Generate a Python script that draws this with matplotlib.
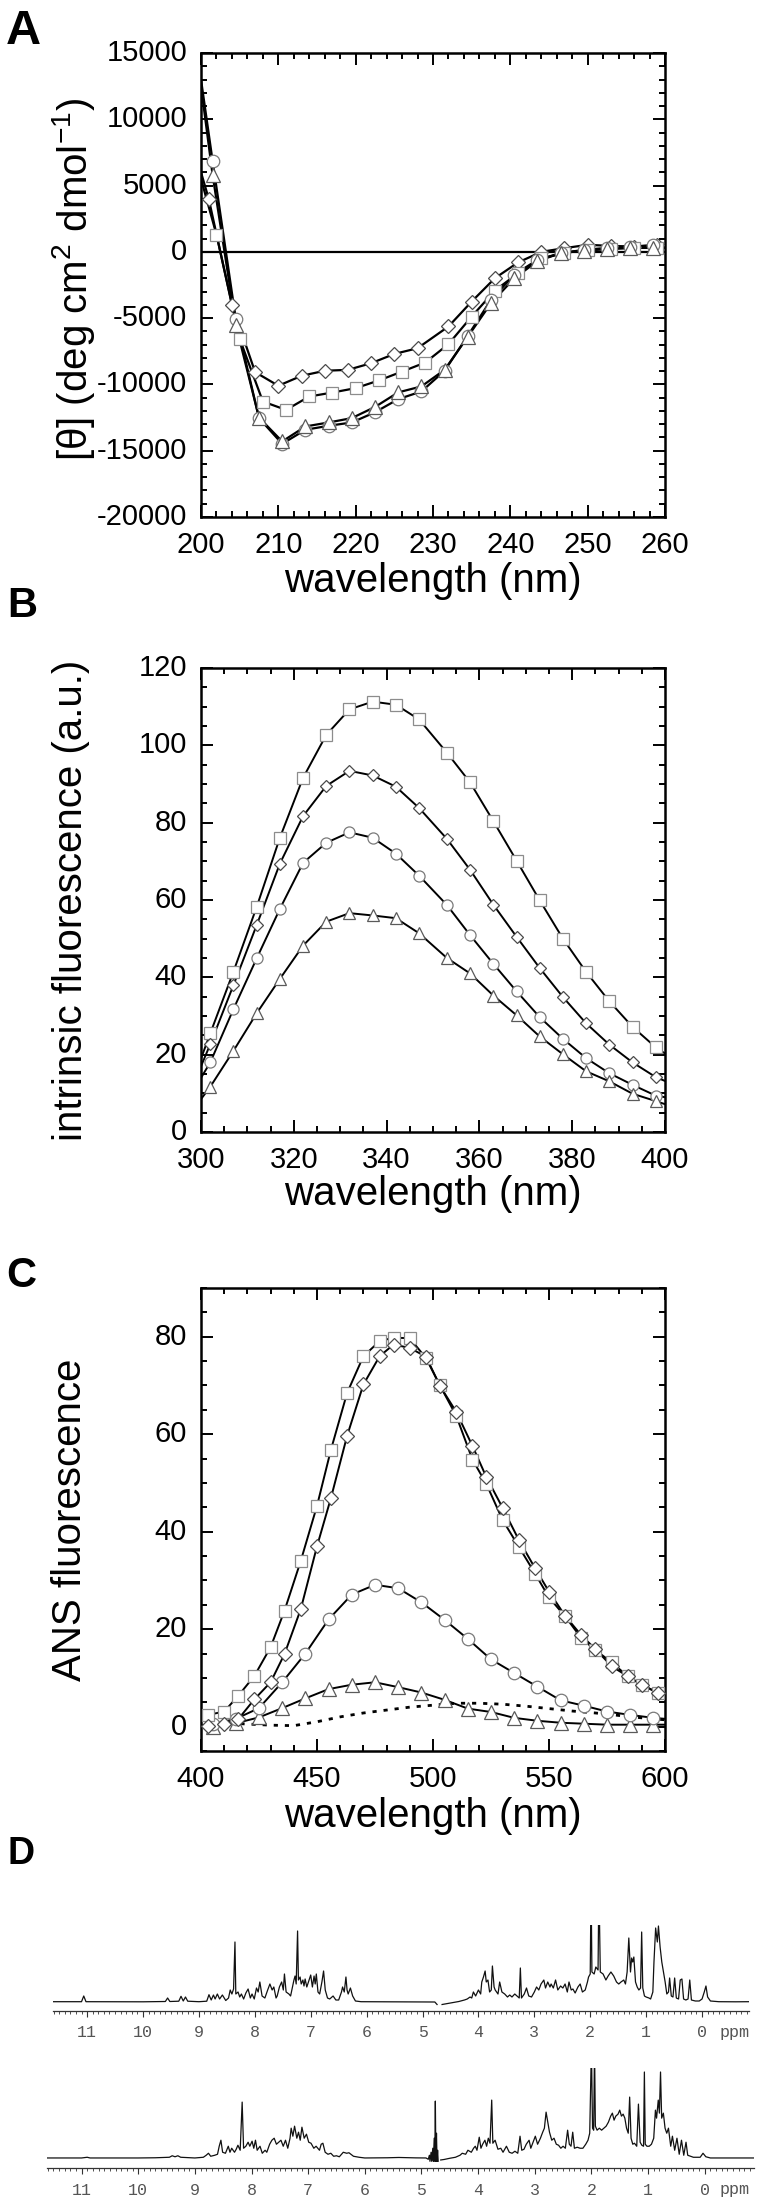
import matplotlib
matplotlib.use("Agg")
import matplotlib.pyplot as plt
from matplotlib.ticker import MultipleLocator
import numpy as np

plt.rcParams['font.family'] = ['Liberation Sans', 'DejaVu Sans']
plt.rcParams['mathtext.fontset'] = 'custom'
plt.rcParams['mathtext.rm'] = 'Liberation Sans'
plt.rcParams['mathtext.it'] = 'Liberation Sans:italic'
plt.rcParams['axes.unicode_minus'] = False

# ---- panel A: CD spectra ----
a_dia_x = [200, 201, 204, 207, 210, 213, 216, 219, 222, 225, 228, 232, 235, 238, 241, 244, 247, 250, 253, 256, 259, 260]
a_dia_y = [6000, 4000, -4000, -9070, -10100, -9350, -8970, -8900, -8400, -7700, -7270, -5630, -3750, -1990, -800, 0, 280, 530, 450, 400, 500, 450]
a_sq_x = [200, 202, 205, 208, 211, 214, 217, 220, 223, 226, 229, 232, 235, 238, 241, 244, 247, 250, 253, 256, 259, 260]
a_sq_y = [5500, 1300, -6560, -11290, -11920, -10910, -10610, -10280, -9700, -9030, -8350, -6960, -4880, -2920, -1610, -500, -80, 150, 250, 300, 300, 300]
a_ct_x = [200, 201.5, 204.5, 207.5, 210.5, 213.5, 216.5, 219.5, 222.5, 225.5, 228.5, 231.5, 234.5, 237.5, 240.5, 243.5, 246.5, 249.5, 252.5, 255.5, 258.5, 260]
a_cir_y = [13000, 6860, -5080, -12540, -14480, -13420, -13120, -12870, -12100, -11110, -10530, -8970, -6330, -3620, -1730, -600, -100, 150, 300, 400, 500, 450]
a_tri_y = [12500, 5800, -5500, -12500, -14300, -13170, -12870, -12540, -11700, -10600, -10150, -8900, -6400, -3870, -2000, -700, -100, 100, 200, 300, 300, 300]

# ---- panel B: intrinsic fluorescence ----
b_x = [300, 302, 307, 312, 317, 322, 327, 332, 337, 342, 347, 353, 358, 363, 368, 373, 378, 383, 388, 393, 398, 400]
b_sq = [19, 25.5, 41.5, 58.2, 76.1, 91.6, 102.7, 109.3, 111.3, 110.5, 106.7, 98.1, 90.4, 80.4, 70.2, 59.9, 50.0, 41.4, 33.8, 27.2, 21.9, 20.3]
b_dia = [17, 22.7, 38.0, 53.5, 69.4, 81.7, 89.5, 93.4, 92.2, 89.3, 83.8, 75.8, 67.8, 58.8, 50.5, 42.4, 34.9, 28.1, 22.6, 18.0, 14.2, 13.2]
b_cir = [14, 18.0, 31.8, 44.9, 57.7, 69.6, 74.8, 77.5, 76.1, 72.0, 66.3, 58.7, 50.9, 43.5, 36.4, 29.7, 24.1, 19.1, 15.2, 12.2, 9.4, 9.0]
b_tri = [8.5, 11.7, 21.0, 30.7, 39.6, 48.2, 54.4, 56.6, 56.0, 55.3, 51.4, 45.0, 41.0, 35.3, 30.2, 24.7, 20.1, 15.7, 13.1, 9.9, 8.0, 7.2]

# ---- panel C: ANS fluorescence ----
c_x_sd = [400, 403, 410, 416, 423, 430, 436, 443, 450, 456, 463, 470, 477, 483, 490, 497, 503, 510, 517, 523, 530, 537, 544, 550, 557, 564, 570, 577, 584, 590, 597, 600]
c_sq = [1.5, 2.4, 3.1, 6.3, 10.4, 16.3, 23.8, 34.0, 45.3, 56.8, 68.5, 76.0, 79.1, 79.8, 79.7, 75.6, 70.0, 63.8, 54.8, 49.8, 42.4, 36.9, 31.4, 26.5, 22.6, 18.1, 15.7, 13.2, 10.3, 8.6, 6.9, 6.3]
c_dia = [0.2, 0.2, 0.6, 1.5, 5.6, 9.1, 14.9, 24.1, 37.0, 46.9, 59.7, 70.2, 76.0, 78.4, 77.7, 75.9, 69.9, 64.6, 57.6, 51.2, 44.9, 38.3, 32.5, 27.7, 22.7, 18.7, 15.9, 12.4, 10.3, 8.6, 6.9, 6.3]
c_x_ct = [400, 405, 415, 425, 435, 445, 455, 465, 475, 485, 495, 505, 515, 525, 535, 545, 555, 565, 575, 585, 595, 600]
c_cir = [0.3, 0.5, 1.6, 3.8, 9.1, 15.0, 22.0, 27.1, 29.1, 28.4, 25.5, 21.9, 18.0, 13.8, 11.0, 8.2, 5.4, 4.3, 3.1, 2.4, 1.8, 1.6]
c_tri = [0.0, -0.1, 0.7, 1.9, 3.8, 5.8, 7.7, 8.6, 9.1, 8.1, 7.0, 5.5, 3.7, 3.0, 1.8, 1.2, 0.8, 0.6, 0.4, 0.4, 0.4, 0.4]
c_ans_x = [417, 430, 440, 450, 460, 470, 480, 490, 500, 510, 520, 530, 540, 550, 560, 570, 580, 590, 600]
c_ans_y = [0.6, 0.3, 0.2, 1.0, 2.0, 2.8, 3.4, 4.0, 4.4, 4.8, 4.8, 4.6, 4.2, 3.7, 3.2, 2.8, 2.3, 1.8, 1.4]

# ---- panel D: 1H NMR spectra (ppm, intensity), nan = gap at water signal ----
nmr1_ppm = [11.6, 11.1, 11.06, 11.02, 10.5, 10.0, 9.6, 9.56, 9.52, 9.36, 9.32, 9.28, 9.24, 9.2, 9.0, 8.86, 8.82, 8.78, 8.74, 8.71, 8.67, 8.63, 8.58, 8.52, 8.47, 8.44, 8.41, 8.38, 8.355, 8.34, 8.3, 8.27, 8.24, 8.2, 8.16, 8.12, 8.08, 8.05, 8.01, 7.97, 7.94, 7.91, 7.87, 7.82, 7.77, 7.73, 7.69, 7.66, 7.62, 7.6, 7.56, 7.52, 7.49, 7.47, 7.44, 7.39, 7.36, 7.33, 7.3, 7.28, 7.26, 7.235, 7.22, 7.19, 7.17, 7.14, 7.12, 7.1, 7.07, 7.04, 7.0, 6.97, 6.94, 6.92, 6.9, 6.87, 6.84, 6.8, 6.77, 6.74, 6.7, 6.66, 6.6, 6.55, 6.5, 6.45, 6.43, 6.4, 6.37, 6.35, 6.33, 6.29, 6.25, 6.2, 6.1, 5.5, 5.0, 4.78, 4.74,
            np.nan,
            4.65, 4.55, 4.45, 4.35, 4.25, 4.2, 4.15, 4.12, 4.09, 4.05, 4.0, 3.96, 3.94, 3.91, 3.88, 3.86, 3.83, 3.8, 3.77, 3.75, 3.72, 3.7, 3.65, 3.62, 3.58, 3.53, 3.48, 3.44, 3.4, 3.35, 3.31, 3.27, 3.25, 3.23, 3.18, 3.14, 3.1, 3.05, 3.0, 2.96, 2.92, 2.88, 2.83, 2.8, 2.76, 2.72, 2.7, 2.66, 2.62, 2.58, 2.53, 2.49, 2.45, 2.41, 2.38, 2.34, 2.31, 2.27, 2.22, 2.18, 2.14, 2.09, 2.05, 2.03, 2.0, 1.985, 1.97, 1.93, 1.9, 1.86, 1.845, 1.82, 1.77, 1.72, 1.68, 1.63, 1.58, 1.53, 1.49, 1.45, 1.4, 1.37, 1.34, 1.31, 1.28, 1.26, 1.24, 1.22, 1.19, 1.16, 1.13, 1.1, 1.08, 1.06, 1.03, 1.0, 0.95, 0.92, 0.88, 0.86, 0.83, 0.8, 0.78, 0.75, 0.72, 0.69, 0.66, 0.63, 0.6, 0.58, 0.55, 0.52, 0.49, 0.46, 0.42, 0.39, 0.36, 0.33, 0.29, 0.25, 0.22, 0.19, 0.12, 0.05, 0.0, -0.04, -0.07, -0.1, -0.15, -0.3, -0.6, -0.84]
nmr1_int = [0.3, 0.3, 6, 0.3, 0.3, 0.2, 0.5, 4, 0.5, 0.8, 5.7, 1, 5, 0.8, 0.3, 0.8, 7.3, 2, 7, 3, 8, 3, 7, 1.5, 4, 12, 8, 13, 60, 8, 10, 5, 8, 3, 9, 13, 4, 8, 3, 14, 10, 20, 6, 4, 12, 18, 12, 15, 4, 6, 15, 20, 12, 28, 10, 8, 6, 14, 22, 26, 18, 71, 22, 25, 18, 22, 16, 23, 15, 20, 27, 15, 26, 18, 28, 10, 8, 20, 31, 12, 4, 3, 6, 2, 2, 10, 15, 10, 25, 12, 8, 14, 6, 1, 0.3, 0.2, 0.1, 0, -2.5,
            np.nan,
            -2.5, -1.5, -0.5, 0.5, 2, 3, 5, 4, 10, 6, 12, 8, 20, 25, 31, 20, 22, 10, 12, 36, 15, 12, 8, 20, 10, 8, 5, 7, 5, 8, 6, 4, 34, 4, 8, 14, 6, 5, 10, 15, 12, 18, 22, 14, 20, 15, 18, 14, 22, 12, 16, 14, 18, 10, 20, 12, 13, 9, 15, 18, 10, 12, 20, 25, 28, 120, 30, 28, 35, 32, 120, 30, 28, 22, 26, 30, 26, 20, 18, 20, 22, 18, 30, 64, 30, 44, 40, 45, 20, 15, 12, 14, 70, 14, 6, 5, 4, 3, 10, 40, 74, 60, 76, 55, 40, 30, 20, 8, 10, 24, 6, 5, 24, 4, 3, 22, 23, 3, 2, 3, 22, 2, 1, 1, 3, 10, 16, 5, 1, 0.3, 0.2, 0.3]

nmr2_ppm = [11.6, 11.0, 10.9, 10.85, 10.0, 9.7, 9.45, 9.4, 9.35, 9.3, 9.25, 9.0, 8.85, 8.8, 8.76, 8.72, 8.65, 8.6, 8.57, 8.54, 8.51, 8.46, 8.41, 8.38, 8.35, 8.3, 8.27, 8.24, 8.2, 8.165, 8.14, 8.1, 8.06, 8.03, 7.99, 7.96, 7.93, 7.9, 7.85, 7.81, 7.76, 7.73, 7.68, 7.64, 7.6, 7.56, 7.52, 7.48, 7.44, 7.4, 7.36, 7.32, 7.3, 7.27, 7.24, 7.2, 7.17, 7.14, 7.11, 7.07, 7.03, 6.99, 6.95, 6.9, 6.86, 6.8, 6.77, 6.74, 6.7, 6.65, 6.6, 6.55, 6.5, 6.45, 6.38, 6.32, 6.28, 6.2, 6.1, 6.0, 5.6, 5.4, 5.1, 4.92, 4.88, 4.86, 4.85, 4.83, 4.82, 4.8, 4.79, 4.775, 4.765, 4.755, 4.745, 4.735, 4.725, 4.715, 4.705,
            np.nan,
            4.66, 4.6, 4.5, 4.4, 4.32, 4.28, 4.22, 4.18, 4.12, 4.08, 4.05, 4.02, 3.98, 3.95, 3.92, 3.88, 3.85, 3.82, 3.79, 3.76, 3.74, 3.7, 3.65, 3.6, 3.56, 3.5, 3.45, 3.4, 3.35, 3.3, 3.26, 3.23, 3.19, 3.15, 3.1, 3.07, 3.03, 2.99, 2.95, 2.9, 2.86, 2.83, 2.8, 2.77, 2.74, 2.7, 2.66, 2.62, 2.58, 2.54, 2.5, 2.46, 2.42, 2.39, 2.36, 2.33, 2.3, 2.25, 2.2, 2.15, 2.1, 2.06, 2.03, 2.0, 1.98, 1.96, 1.945, 1.93, 1.9, 1.86, 1.82, 1.78, 1.74, 1.7, 1.66, 1.63, 1.6, 1.57, 1.53, 1.5, 1.47, 1.44, 1.41, 1.38, 1.35, 1.325, 1.3, 1.27, 1.24, 1.2, 1.17, 1.14, 1.11, 1.08, 1.065, 1.05, 1.02, 0.98, 0.94, 0.9, 0.87, 0.85, 0.82, 0.8, 0.78, 0.76, 0.73, 0.7, 0.67, 0.64, 0.6, 0.57, 0.53, 0.49, 0.45, 0.41, 0.37, 0.33, 0.3, 0.2, 0.08, 0.03, -0.02, -0.1, -0.5, -0.87]
nmr2_int = [0.3, 0.3, 1, 0.3, 0.3, 0.5, 1, 2.5, 1.5, 2.5, 1, 0.3, 1, 3, 5, 2, 3, 4, 12, 18, 6, 5, 12, 6, 10, 6, 9, 13, 8, 56, 10, 12, 16, 12, 17, 10, 18, 8, 12, 5, 8, 6, 14, 18, 20, 14, 16, 18, 12, 18, 10, 20, 30, 22, 32, 20, 26, 18, 31, 20, 24, 16, 15, 10, 12, 8, 14, 15, 6, 4, 5, 2, 2.5, 1.5, 6, 5, 5.5, 2, 1, 0.3, 0.5, 0.8, 0.4, 0.3, -1, 3, -3, 6, -3, 10, -3, 20, -3, 57, -3, 25, -3, 8, -3,
            np.nan,
            -1.7, -1.2, 0, 1, 3, 5, 4, 8, 6, 10, 12, 8, 21, 10, 14, 18, 12, 20, 15, 58, 15, 18, 9, 10, 6, 12, 6, 5, 7, 5, 22, 8, 9, 14, 18, 10, 16, 22, 14, 20, 26, 30, 46, 36, 26, 18, 20, 14, 13, 10, 12, 10, 28, 14, 12, 26, 10, 11, 10, 10, 14, 18, 25, 110, 30, 28, 110, 32, 28, 30, 28, 30, 32, 36, 42, 45, 38, 42, 44, 48, 42, 44, 40, 30, 25, 61, 20, 14, 15, 12, 54, 16, 13, 12, 86, 14, 12, 12, 14, 20, 48, 40, 58, 45, 86, 40, 45, 30, 25, 30, 12, 22, 8, 20, 4, 18, 3, 16, 3, 1, 1, 5, 1.5, 0.3, 0.3, 0.3]

W, H = 760, 2203
fig = plt.figure(figsize=(W / 100, H / 100), dpi=100)


def box(x0, y0, x1, y1):
    return [x0 / W, 1 - y1 / H, (x1 - x0) / W, (y1 - y0) / H]


def fx(x):
    return x / W


def fy(y):
    return 1 - y / H


def style(ax):
    ax.tick_params(which='both', direction='in', top=True, right=True, width=1.4, labelsize=21)
    ax.tick_params(which='major', length=8.5)
    ax.tick_params(which='minor', length=4.3)
    ax.tick_params(axis='x', pad=10)
    ax.tick_params(axis='y', pad=10)
    plt.setp(ax.get_yticklabels(), va='center')
    for s in ax.spines.values():
        s.set_linewidth(1.8)


def series(ax, x, y, marker, ms, ec, lw=1.4):
    ax.plot(x, y, color='k', lw=lw, zorder=2)
    ax.plot(x[1:-1], y[1:-1], ls='none', marker=marker, ms=ms, mfc='white', mec=ec, mew=0.9, zorder=3)


SQ, DI, CI, TR = '#8c8c8c', '#4a4a4a', '#7a7a7a', '#5a5a5a'

# panel A
axA = fig.add_axes(box(201, 53, 665, 517))
axA.axhline(0, color='k', lw=1.6, zorder=1)
series(axA, a_dia_x, a_dia_y, 'D', 7.4, DI, 1.6)
series(axA, a_sq_x, a_sq_y, 's', 9.3, SQ, 1.6)
series(axA, a_ct_x, a_cir_y, 'o', 9.0, CI, 1.6)
series(axA, a_ct_x, a_tri_y, '^', 9.5, TR, 1.6)
axA.set_xlim(200, 260)
axA.set_ylim(-20000, 15000)
axA.xaxis.set_major_locator(MultipleLocator(10))
axA.xaxis.set_minor_locator(MultipleLocator(2))
axA.yaxis.set_major_locator(MultipleLocator(5000))
axA.yaxis.set_minor_locator(MultipleLocator(1000))
style(axA)

# panel B
axB = fig.add_axes(box(201, 668, 665, 1132))
series(axB, b_x, b_sq, 's', 9.0, SQ)
series(axB, b_x, b_dia, 'D', 6.3, DI)
series(axB, b_x, b_cir, 'o', 8.0, CI)
series(axB, b_x, b_tri, '^', 9.0, TR)
axB.set_xlim(300, 400)
axB.set_ylim(0, 120)
axB.xaxis.set_major_locator(MultipleLocator(20))
axB.xaxis.set_minor_locator(MultipleLocator(5))
axB.yaxis.set_major_locator(MultipleLocator(20))
axB.yaxis.set_minor_locator(MultipleLocator(5))
style(axB)

# panel C
axC = fig.add_axes(box(201, 1288, 665, 1751))
axC.plot(c_ans_x, c_ans_y, color='k', lw=2.0, ls=(0, (1.5, 2.5)), zorder=2)
series(axC, c_x_ct, c_tri, '^', 9.5, TR)
series(axC, c_x_ct, c_cir, 'o', 9.0, CI)
series(axC, c_x_sd, c_sq, 's', 9.0, SQ)
series(axC, c_x_sd, c_dia, 'D', 7.0, DI)
axC.set_xlim(400, 600)
axC.set_ylim(-5, 90)
axC.set_yticks([0, 20, 40, 60, 80])
axC.xaxis.set_major_locator(MultipleLocator(50))
axC.xaxis.set_minor_locator(MultipleLocator(10))
axC.yaxis.set_minor_locator(MultipleLocator(5))
style(axC)

# axis labels
fs = 29
for yb in (592, 1205, 1827):
    fig.text(fx(433), fy(yb), 'wavelength (nm)', ha='center', va='baseline', fontsize=fs)
fig.text(fx(87), fy(279), '[θ] (deg cm$^{2}$ dmol$^{-1}$)', rotation=90, rotation_mode='anchor',
         ha='center', va='baseline', fontsize=fs)
fig.text(fx(82), fy(900), 'intrinsic fluorescence (a.u.)', rotation=90, rotation_mode='anchor',
         ha='center', va='baseline', fontsize=fs)
fig.text(fx(81), fy(1520), 'ANS fluorescence', rotation=90, rotation_mode='anchor',
         ha='center', va='baseline', fontsize=fs)

# panel letters
fig.text(fx(6), fy(9), 'A', fontsize=35, fontweight='bold', ha='left', va='top')
fig.text(fx(7), fy(586), 'B', fontsize=30, fontweight='bold', ha='left', va='top')
fig.text(fx(6), fy(1256), 'C', fontsize=30, fontweight='bold', ha='left', va='top')
fig.text(fx(7), fy(1836), 'D', fontsize=27, fontweight='bold', ha='left', va='top')


# panel D: two NMR spectra
def nmr(ax, ppm, inten, left, right, ylim, label_y):
    ax.plot(ppm, inten, color='#111111', lw=0.9)
    ax.set_xlim(left, right)
    ax.set_ylim(*ylim)
    for s in ('top', 'left', 'right'):
        ax.spines[s].set_visible(False)
    ax.spines['bottom'].set_linewidth(0.9)
    ax.spines['bottom'].set_color('#333333')
    ax.set_yticks([])
    ax.set_xticks(list(range(0, 12)))
    ax.set_xticklabels([str(i) for i in range(0, 12)], fontfamily='Liberation Mono', fontsize=12, color='#555555')
    ax.xaxis.set_minor_locator(MultipleLocator(0.1))
    ax.tick_params(axis='x', which='major', direction='out', length=4.3, width=0.8, color='#333333', pad=6)
    ax.tick_params(axis='x', which='minor', direction='out', length=2.0, width=0.6, color='#333333')
    fig.text(fx(735), fy(label_y), 'ppm', ha='center', va='baseline', fontfamily='Liberation Mono',
             fontsize=12, color='#555555')


axD1 = fig.add_axes(box(53, 1925, 749, 2010.7))
nmr(axD1, nmr1_ppm, nmr1_int, 11.61, -0.84, (-8.7, 77), 2037)
axD2 = fig.add_axes(box(47, 2068, 754, 2168.3))
nmr(axD2, nmr2_ppm, nmr2_int, 11.61, -0.87, (-10, 90), 2194)

fig.savefig('out.png', dpi=100)
